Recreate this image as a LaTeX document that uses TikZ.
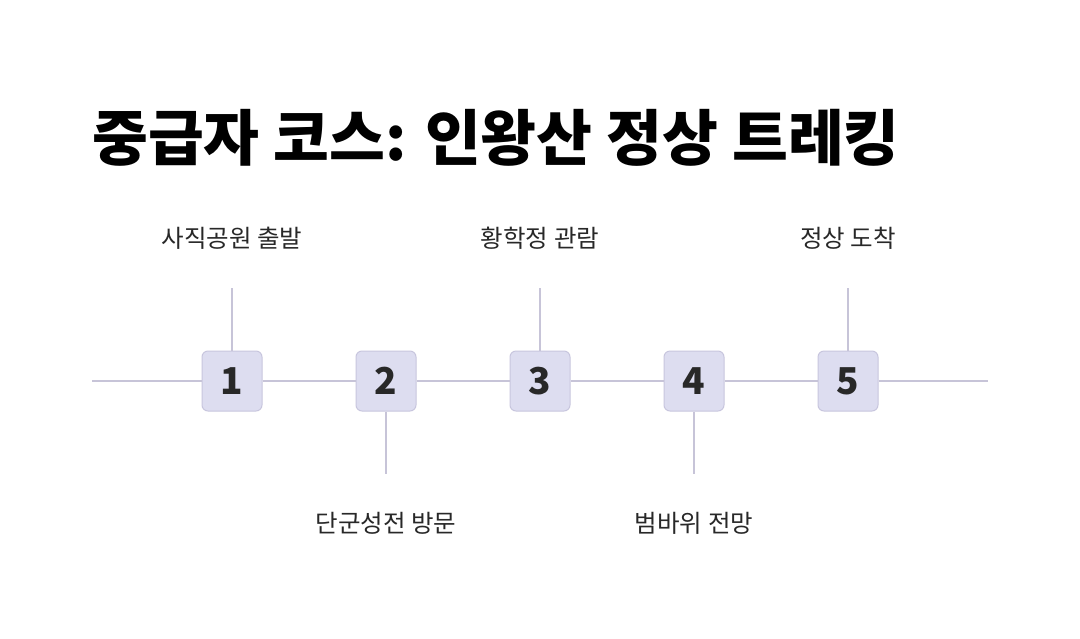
\documentclass[tikz,border=0pt]{standalone}
\usepackage{fontspec}
\setmainfont{Noto Sans CJK KR}
\usetikzlibrary{positioning}
\definecolor{lavanda}{RGB}{221,221,240}
\definecolor{borde}{RGB}{200,198,222}
\definecolor{trazo}{RGB}{199,196,216}
\definecolor{texto}{RGB}{40,40,40}
\tikzset{
  numero/.style={
    rectangle, rounded corners=6pt, draw=borde, fill=lavanda, line width=1pt,
    minimum size=60pt, inner sep=0pt, text=texto,
    font=\fontsize{37}{40}\selectfont\bfseries},
  etiqueta/.style={font=\fontsize{24.5}{28}\selectfont, text=texto, inner sep=0pt},
  linea/.style={draw=trazo, line width=2pt}
}

\begin{document}
\begin{tikzpicture}[x=1pt,y=-1pt]
\useasboundingbox[fill=white] (0,0) rectangle (1080,638);

% Titulo
\node[anchor=base west, inner sep=0pt, font=\fontsize{60.7}{66}\selectfont\bfseries] (titulo)
  at (92,160) {중급자 코스: 인왕산 정상 트레킹};

% Linea base
\coordinate (inicio) at (92,381);
\coordinate (final) at (988,381);

\node[numero] (n1) at (232,381) {1};
\node[numero] (n2) at (386,381) {2};
\node[numero] (n3) at (540,381) {3};
\node[numero] (n4) at (694,381) {4};
\node[numero] (n5) at (848,381) {5};

\draw[linea] (inicio) -- (n1) -- (n2) -- (n3) -- (n4) -- (n5) -- (final);

% Etapas arriba
\coordinate (c1) at (232,288);
\coordinate (c3) at (540,288);
\coordinate (c5) at (848,288);
\node[etiqueta] (e1) at (232,238) {사직공원 출발};
\node[etiqueta] (e3) at (540,238) {황학정 관람};
\node[etiqueta] (e5) at (848,238) {정상 도착};
\draw[linea] (n1.north) -- (c1);
\draw[linea] (n3.north) -- (c3);
\draw[linea] (n5.north) -- (c5);

% Etapas abajo
\coordinate (c2) at (386,474);
\coordinate (c4) at (694,474);
\node[etiqueta] (e2) at (386,523) {단군성전 방문};
\node[etiqueta] (e4) at (694,523) {범바위 전망};
\draw[linea] (n2.south) -- (c2);
\draw[linea] (n4.south) -- (c4);

\end{tikzpicture}
\end{document}
